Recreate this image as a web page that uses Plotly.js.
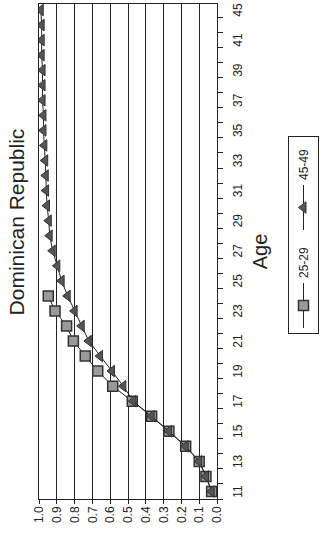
<!DOCTYPE html>
<html>
<head>
<meta charset="utf-8">
<script src="https://cdn.plot.ly/plotly-3.0.1.min.js"></script>
<style>
  html, body { margin: 0; padding: 0; background: #fff; overflow: hidden; width: 322px; height: 536px; }
  #plot { position: absolute; left: 0; top: 0; width: 536px; height: 322px;
          transform-origin: 0 0; transform: translate(0px, 536px) rotate(-90deg); }
</style>
</head>
<body>
<div id="plot"></div>
<script>
// Ages (x, original orientation) and cumulative proportions
const ages2529 = [11, 12, 13, 14, 15, 16, 17, 18, 19, 20, 21, 22, 23, 24];
const values2529 = [0.03, 0.062, 0.10, 0.176, 0.27, 0.367, 0.476, 0.586, 0.67, 0.74, 0.807, 0.845, 0.91, 0.948];

const ages4549 = [11, 12, 13, 14, 15, 16, 17, 18, 19, 20, 21, 22, 23, 24, 25, 26, 27,
                  28, 29, 30, 31, 32, 33, 34, 35, 36, 37, 38, 39, 40, 41, 42, 43];
const values4549 = [0.03, 0.062, 0.10, 0.176, 0.27, 0.367, 0.47, 0.526, 0.59, 0.657, 0.72, 0.76, 0.80,
                    0.839, 0.873, 0.897, 0.923, 0.94, 0.945, 0.955, 0.96, 0.962, 0.965, 0.97, 0.975,
                    0.975, 0.98, 0.98, 0.98, 0.985, 0.985, 0.985, 0.99];

const ageTickVals = [11, 13, 15, 17, 19, 21, 23, 25, 27, 29, 31, 33, 35, 37, 39, 41, 43];
const ageTickText = ["11", "13", "15", "17", "19", "21", "23", "25", "27", "29", "31", "33", "35", "37", "39", "41", "45"];

const seriesNames = ["25-29", "45-49"];
const chartTitle = "Dominican Republic";
const xTitle = "Age";

const font = "Arial, 'Liberation Sans', sans-serif";

const traces = [
  {
    x: ages2529, y: values2529, name: seriesNames[0], type: "scatter", mode: "lines+markers",
    line: { color: "#222", width: 1 },
    marker: { symbol: "square", size: 10, color: "#9a9a9a", line: { color: "#333", width: 1.5 } }
  },
  {
    x: ages4549, y: values4549, name: seriesNames[1], type: "scatter", mode: "lines+markers",
    line: { color: "#222", width: 1 },
    marker: { symbol: "triangle-up", size: 10, color: "#555", line: { color: "#333", width: 1 } }
  }
];

const layout = {
  width: 536, height: 322,
  margin: { l: 37, r: 4, t: 39, b: 105 },
  paper_bgcolor: "#fff", plot_bgcolor: "#fff",
  font: { family: font, color: "#222", size: 12 },
  showlegend: true,
  title: {
    text: chartTitle, font: { family: font, size: 21, color: "#222" },
    x: 314 / 536, xref: "container", xanchor: "center",
    y: 1 - 17 / 322, yref: "container", yanchor: "middle"
  },
  xaxis: {
    range: [10.5, 43.4],
    tickmode: "array", tickvals: ageTickVals, ticktext: ageTickText,
    ticks: "", ticklabelstandoff: 10,
    tickfont: { family: font, size: 12, color: "#222" },
    minor: { tick0: 10.5, dtick: 1, ticks: "outside", ticklen: 5, tickcolor: "#222", tickwidth: 1, showgrid: false },
    showgrid: false, zeroline: false,
    showline: true, linecolor: "#222", linewidth: 1, mirror: true,
    title: { text: xTitle, font: { family: font, size: 20, color: "#222" }, standoff: 8 }
  },
  yaxis: {
    range: [0, 1], dtick: 0.1, tick0: 0, tickformat: ".1f",
    ticks: "outside", ticklen: 4, tickcolor: "#222",
    tickfont: { family: font, size: 12, color: "#222" },
    showgrid: true, gridcolor: "#222", gridwidth: 1, zeroline: false,
    showline: true, linecolor: "#222", linewidth: 1, mirror: true
  },
  legend: {
    orientation: "h", xref: "container", yref: "container",
    x: 202 / 536, xanchor: "left", y: 1 - 288 / 322, yanchor: "top",
    itemwidth: 45, entrywidth: 38,
    bordercolor: "#222", borderwidth: 1, bgcolor: "#fff",
    font: { family: font, size: 12, color: "#222" }
  }
};

Plotly.newPlot("plot", traces, layout, { staticPlot: true, displayModeBar: false });
</script>
</body>
</html>
